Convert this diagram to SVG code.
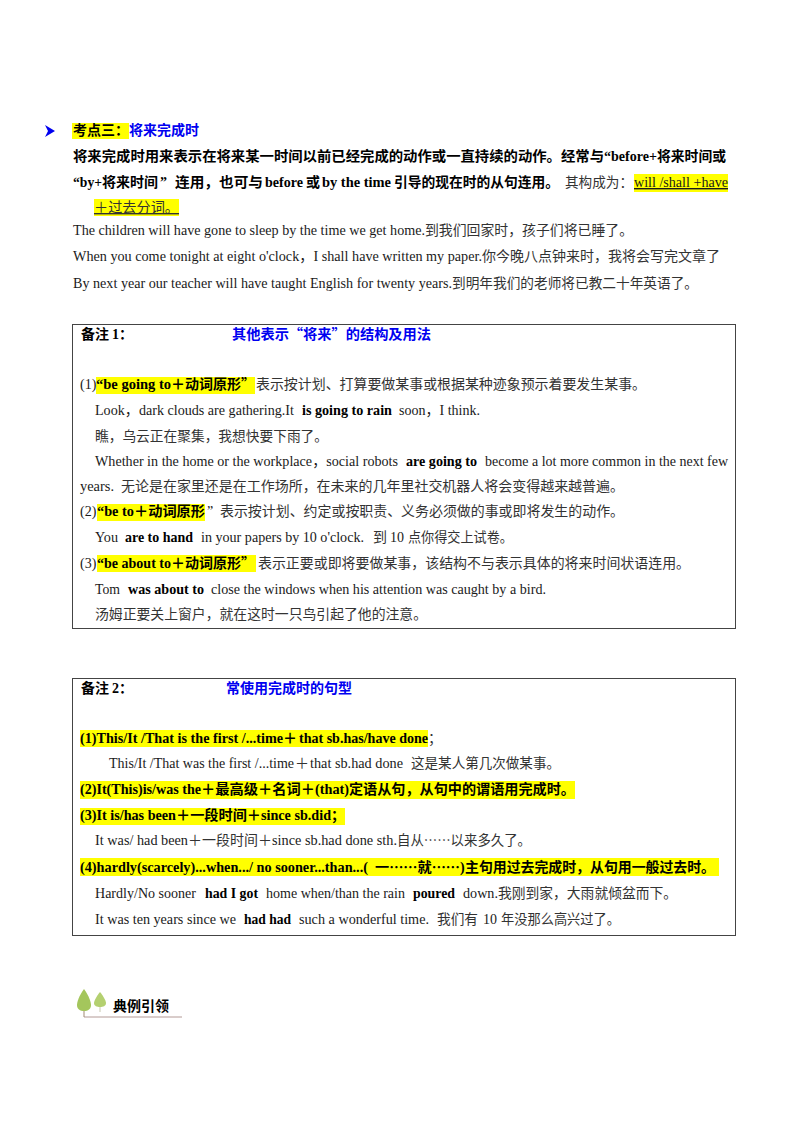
<svg xmlns="http://www.w3.org/2000/svg" width="800" height="1132" viewBox="0 0 800 1132">
<style>
text{font-family:"Liberation Serif","Noto Sans CJK SC",serif;font-size:14px;fill:#1a1a1a;white-space:pre}
.c{font-family:"Noto Sans CJK SC","Liberation Serif",sans-serif;fill:#333}
.b{font-weight:bold;fill:#000}
.h{font-family:"Noto Sans CJK SC","Liberation Serif",sans-serif;font-weight:bold;fill:#000}
.u{font-family:"Noto Sans CJK SC",sans-serif;font-weight:bold;fill:#0000f0}
.y{fill:#ffff00}
.box{fill:#fff;stroke:#444;stroke-width:1}
</style>
<rect width="800" height="1132" fill="#fff"/>
<g id="section-main">
<polygon points="45,125 55,131 45,137 48,131" fill="#0000f0"/>
<rect class="y" x="72" y="123" width="57" height="16"/>
<text class="h" x="73" y="135" textLength="56" lengthAdjust="spacingAndGlyphs">考点三：</text>
<text class="u" x="129" y="135" textLength="70" lengthAdjust="spacingAndGlyphs">将来完成时</text>
<text class="h" x="73" y="161" textLength="531" lengthAdjust="spacingAndGlyphs">将来完成时用来表示在将来某一时间以前已经完成的动作或一直持续的动作。经常与</text>
<text class="b" x="604" y="161" textLength="53" lengthAdjust="spacingAndGlyphs">“before+</text>
<text class="h" x="657" y="161" textLength="69" lengthAdjust="spacingAndGlyphs">将来时间或</text>
<text class="b" x="73" y="187" textLength="29" lengthAdjust="spacingAndGlyphs">“by+</text>
<text class="h" x="102" y="187" textLength="56" lengthAdjust="spacingAndGlyphs">将来时间</text>
<text class="b" x="160" y="187">”</text>
<text class="h" x="175" y="187" textLength="88" lengthAdjust="spacingAndGlyphs">连用，也可与</text>
<text class="b" x="265" y="187" textLength="38" lengthAdjust="spacingAndGlyphs">before</text>
<text class="h" x="306" y="187">或</text>
<text class="b" x="322" y="187" textLength="69" lengthAdjust="spacingAndGlyphs">by the time</text>
<text class="h" x="394" y="187" textLength="165" lengthAdjust="spacingAndGlyphs">引导的现在时的从句连用。</text>
<text class="c" x="565" y="187" textLength="68" lengthAdjust="spacingAndGlyphs">其构成为：</text>
<rect class="y" x="634" y="174" width="94" height="18"/>
<text x="634" y="187" textLength="94" lengthAdjust="spacingAndGlyphs" text-decoration="underline">will /shall +have</text>
<rect class="y" x="94" y="199" width="85" height="17"/>
<text class="c" x="94" y="212" textLength="85" lengthAdjust="spacingAndGlyphs" text-decoration="underline">＋过去分词。</text>
<text x="73" y="235" textLength="352" lengthAdjust="spacingAndGlyphs">The children will have gone to sleep by the time we get home.</text>
<text class="c" x="425" y="235" textLength="208" lengthAdjust="spacingAndGlyphs">到我们回家时，孩子们将已睡了。</text>
<text x="73" y="261" textLength="409" lengthAdjust="spacingAndGlyphs">When you come tonight at eight o'clock，I shall have written my paper.</text>
<text class="c" x="482" y="261" textLength="238" lengthAdjust="spacingAndGlyphs">你今晚八点钟来时，我将会写完文章了</text>
<text x="73" y="288" textLength="379" lengthAdjust="spacingAndGlyphs">By next year our teacher will have taught English for twenty years.</text>
<text class="c" x="452" y="288" textLength="246" lengthAdjust="spacingAndGlyphs">到明年我们的老师将已教二十年英语了。</text>
</g>
<g id="note-1">
<rect class="box" x="72.5" y="324.5" width="663" height="304"/>
<text class="h" x="81" y="339" textLength="14" lengthAdjust="spacingAndGlyphs">备</text>
<text class="h" x="95" y="339" textLength="14" lengthAdjust="spacingAndGlyphs">注</text>
<text class="b" x="112" y="339">1</text>
<text class="h" x="119" y="339">：</text>
<text class="u" x="232" y="339" textLength="199" lengthAdjust="spacingAndGlyphs">其他表示“将来”的结构及用法</text>
<rect class="y" x="96" y="377" width="159" height="17"/>
<text x="80" y="389">(1)</text>
<text class="b" x="96" y="389" textLength="75" lengthAdjust="spacingAndGlyphs">“be going to</text>
<text class="h" x="171" y="389" textLength="84" lengthAdjust="spacingAndGlyphs">＋动词原形”</text>
<text class="c" x="256" y="389" textLength="390" lengthAdjust="spacingAndGlyphs">表示按计划、打算要做某事或根据某种迹象预示着要发生某事。</text>
<text x="95" y="415" textLength="199" lengthAdjust="spacingAndGlyphs">Look，dark clouds are gathering.It</text>
<text class="b" x="302" y="415" textLength="90" lengthAdjust="spacingAndGlyphs">is going to rain</text>
<text x="399" y="415" textLength="81" lengthAdjust="spacingAndGlyphs">soon，I think.</text>
<text class="c" x="95" y="441" textLength="233" lengthAdjust="spacingAndGlyphs">瞧，乌云正在聚集，我想快要下雨了。</text>
<text x="95" y="466" textLength="303" lengthAdjust="spacingAndGlyphs">Whether in the home or the workplace，social robots</text>
<text class="b" x="406" y="466" textLength="71" lengthAdjust="spacingAndGlyphs">are going to</text>
<text x="485" y="466" textLength="243" lengthAdjust="spacingAndGlyphs">become a lot more common in the next few</text>
<text x="80" y="491" textLength="34" lengthAdjust="spacingAndGlyphs">years.</text>
<text class="c" x="121" y="491" textLength="503" lengthAdjust="spacingAndGlyphs">无论是在家里还是在工作场所，在未来的几年里社交机器人将会变得越来越普遍。</text>
<rect class="y" x="97" y="504" width="108" height="17"/>
<text x="80" y="516">(2)</text>
<text class="b" x="97" y="516" textLength="37" lengthAdjust="spacingAndGlyphs">“be to</text>
<text class="h" x="134" y="516" textLength="71" lengthAdjust="spacingAndGlyphs">＋动词原形</text>
<text x="207" y="516">”</text>
<text class="c" x="220" y="516" textLength="404" lengthAdjust="spacingAndGlyphs">表示按计划、约定或按职责、义务必须做的事或即将发生的动作。</text>
<text x="95" y="542" textLength="23" lengthAdjust="spacingAndGlyphs">You</text>
<text class="b" x="125" y="542" textLength="68" lengthAdjust="spacingAndGlyphs">are to hand</text>
<text x="201" y="542" textLength="163" lengthAdjust="spacingAndGlyphs">in your papers by 10 o'clock.</text>
<text class="c" x="373" y="542">到</text>
<text x="390" y="542">10</text>
<text class="c" x="408" y="542" textLength="105" lengthAdjust="spacingAndGlyphs">点你得交上试卷。</text>
<rect class="y" x="97" y="555" width="159" height="17"/>
<text x="80" y="568">(3)</text>
<text class="b" x="97" y="568" textLength="74" lengthAdjust="spacingAndGlyphs">“be about to</text>
<text class="h" x="171" y="568" textLength="84" lengthAdjust="spacingAndGlyphs">＋动词原形”</text>
<text class="c" x="258" y="568" textLength="432" lengthAdjust="spacingAndGlyphs">表示正要或即将要做某事，该结构不与表示具体的将来时间状语连用。</text>
<text x="95" y="594" textLength="25" lengthAdjust="spacingAndGlyphs">Tom</text>
<text class="b" x="128" y="594" textLength="76" lengthAdjust="spacingAndGlyphs">was about to</text>
<text x="211" y="594" textLength="335" lengthAdjust="spacingAndGlyphs">close the windows when his attention was caught by a bird.</text>
<text class="c" x="95" y="619" textLength="332" lengthAdjust="spacingAndGlyphs">汤姆正要关上窗户，就在这时一只鸟引起了他的注意。</text>
</g>
<g id="note-2">
<rect class="box" x="72.5" y="678.5" width="663" height="257"/>
<text class="h" x="81" y="693" textLength="28" lengthAdjust="spacingAndGlyphs">备注</text>
<text class="b" x="112" y="693">2</text>
<text class="h" x="119" y="693">：</text>
<text class="u" x="226" y="693" textLength="126" lengthAdjust="spacingAndGlyphs">常使用完成时的句型</text>
<rect class="y" x="80" y="730" width="348" height="17"/>
<text class="b" x="80" y="743" textLength="203" lengthAdjust="spacingAndGlyphs">(1)This/It /That is the first /...time</text>
<text class="h" x="283" y="743">＋</text>
<text class="b" x="299" y="743" textLength="129" lengthAdjust="spacingAndGlyphs">that sb.has/have done</text>
<text class="c" x="428" y="743">；</text>
<text x="109" y="768" textLength="185" lengthAdjust="spacingAndGlyphs">This/It /That was the first /...time</text>
<text class="c" x="295" y="768">＋</text>
<text x="310" y="768" textLength="93" lengthAdjust="spacingAndGlyphs">that sb.had done</text>
<text class="c" x="411" y="768" textLength="149" lengthAdjust="spacingAndGlyphs">这是某人第几次做某事。</text>
<rect class="y" x="80" y="781" width="495" height="18"/>
<text class="b" x="80" y="794" textLength="121" lengthAdjust="spacingAndGlyphs">(2)It(This)is/was the</text>
<text class="h" x="201" y="794" textLength="114" lengthAdjust="spacingAndGlyphs">＋最高级＋名词＋</text>
<text class="b" x="315" y="794" textLength="34" lengthAdjust="spacingAndGlyphs">(that)</text>
<text class="h" x="349" y="794" textLength="226" lengthAdjust="spacingAndGlyphs">定语从句，从句中的谓语用完成时。</text>
<rect class="y" x="80" y="808" width="265" height="17"/>
<text class="b" x="80" y="820" textLength="96" lengthAdjust="spacingAndGlyphs">(3)It is/has been</text>
<text class="h" x="176" y="820" textLength="85" lengthAdjust="spacingAndGlyphs">＋一段时间＋</text>
<text class="b" x="261" y="820" textLength="70" lengthAdjust="spacingAndGlyphs">since sb.did</text>
<text class="h" x="331" y="820">；</text>
<text x="95" y="845" textLength="93" lengthAdjust="spacingAndGlyphs">It was/ had been</text>
<text class="c" x="188" y="845" textLength="84" lengthAdjust="spacingAndGlyphs">＋一段时间＋</text>
<text x="272" y="845" textLength="125" lengthAdjust="spacingAndGlyphs">since sb.had done sth.</text>
<text class="c" x="397" y="845" textLength="134" lengthAdjust="spacingAndGlyphs">自从……以来多久了。</text>
<rect class="y" x="80" y="858" width="639" height="18"/>
<text class="b" x="80" y="872" textLength="288" lengthAdjust="spacingAndGlyphs">(4)hardly(scarcely)...when.../ no sooner...than...(</text>
<text class="h" x="375" y="872" textLength="85" lengthAdjust="spacingAndGlyphs">一……就……</text>
<text class="b" x="460" y="872">)</text>
<text class="h" x="465" y="872" textLength="250" lengthAdjust="spacingAndGlyphs">主句用过去完成时，从句用一般过去时。</text>
<text x="95" y="898" textLength="101" lengthAdjust="spacingAndGlyphs">Hardly/No sooner</text>
<text class="b" x="205" y="898" textLength="53" lengthAdjust="spacingAndGlyphs">had I got</text>
<text x="266" y="898" textLength="139" lengthAdjust="spacingAndGlyphs">home when/than the rain</text>
<text class="b" x="413" y="898" textLength="42" lengthAdjust="spacingAndGlyphs">poured</text>
<text x="463" y="898" textLength="35" lengthAdjust="spacingAndGlyphs">down.</text>
<text class="c" x="498" y="898" textLength="179" lengthAdjust="spacingAndGlyphs">我刚到家，大雨就倾盆而下。</text>
<text x="95" y="924" textLength="141" lengthAdjust="spacingAndGlyphs">It was ten years since we</text>
<text class="b" x="244" y="924" textLength="47" lengthAdjust="spacingAndGlyphs">had had</text>
<text x="299" y="924" textLength="130" lengthAdjust="spacingAndGlyphs">such a wonderful time.</text>
<text class="c" x="437" y="924" textLength="41" lengthAdjust="spacingAndGlyphs">我们有</text>
<text x="483" y="924">10</text>
<text class="c" x="501" y="924" textLength="119" lengthAdjust="spacingAndGlyphs">年没那么高兴过了。</text>
</g>
<g id="badge">
<line x1="84" y1="1017" x2="182" y2="1017" stroke="#b39a96" stroke-width="1"/>
<line x1="84" y1="1003" x2="84" y2="1017" stroke="#a08a70" stroke-width="1"/>
<line x1="100" y1="1005" x2="100" y2="1012" stroke="#c8c8b0" stroke-width="1"/>
<path d="M84,989 C79,996 77,1002 77,1005 C77,1009 80,1011 84,1011 C88,1011 91,1009 91,1005 C91,1002 89,996 84,989Z" fill="#a4c65c"/>
<path d="M100,992 C96,997 94,1001 94,1003 C94,1006 97,1007 100,1007 C103,1007 106,1006 106,1003 C106,1001 104,997 100,992Z" fill="#b4d070"/>
<text class="h" x="113" y="1011" textLength="56" lengthAdjust="spacingAndGlyphs">典例引领</text>
</g>
</svg>
